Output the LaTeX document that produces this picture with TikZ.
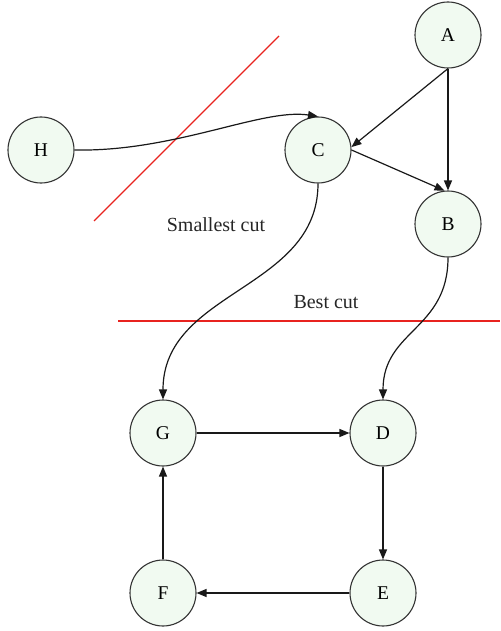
\documentclass[tikz,border=0pt]{standalone}
\usepackage{fontspec}
\setmainfont{Liberation Serif}
\usetikzlibrary{arrows.meta}
\definecolor{nodefill}{HTML}{F1FAF1}
\definecolor{nodedraw}{HTML}{333333}
\definecolor{cutred}{HTML}{E8231F}
\begin{document}
\begin{tikzpicture}[x=1pt,y=-1pt,
  vert/.style={circle,draw=nodedraw,fill=nodefill,line width=1.1pt,minimum size=66pt,inner sep=0pt,font=\fontsize{19.5}{22}\selectfont},
  edge/.style={line width=1.2pt,draw=black!90,-{Triangle[length=10pt,width=8pt]}},
  cut/.style={draw=cutred,line width=1.2pt},
  lbl/.style={font=\fontsize{20}{22}\selectfont,inner sep=0pt,text=black!85}]
\useasboundingbox (0,0) rectangle (500,631);
\node[vert] (A) at (448,35) {A};
\node[vert] (C) at (318,150) {C};
\node[vert] (B) at (448,224) {B};
\node[vert] (H) at (41,150) {H};
\node[vert] (G) at (163,433) {G};
\node[vert] (D) at (383,433) {D};
\node[vert] (E) at (383,593) {E};
\node[vert] (F) at (163,593) {F};
\coordinate (c1a) at (94,221);
\coordinate (c1b) at (279,36);
\coordinate (c2a) at (118,320);
\coordinate (c2b) at (500,322);
\draw[cut] (c1a) -- (c1b);
\fill[cutred] (c2a) rectangle (c2b);
\node[lbl] (sc) at (216,225) {Smallest cut};
\node[lbl] (bc) at (326,302) {Best cut};
\draw[edge] (A.south) -- (B.north);
\draw[edge] (A.south) -- (C.5);
\draw[edge] (C.east) -- (B.96);
\draw[edge] (H.east) .. controls (175,152) and (262,108) .. (C.north);
\draw[edge] (C.south) .. controls (318,290) and (163,290) .. (G.north);
\draw[edge] (B.south) .. controls (448,330) and (383,330) .. (D.north);
\draw[edge] (G.east) -- (D.west);
\draw[edge] (D.south) -- (E.north);
\draw[edge] (E.west) -- (F.east);
\draw[edge] (F.north) -- (G.south);
\end{tikzpicture}
\end{document}
